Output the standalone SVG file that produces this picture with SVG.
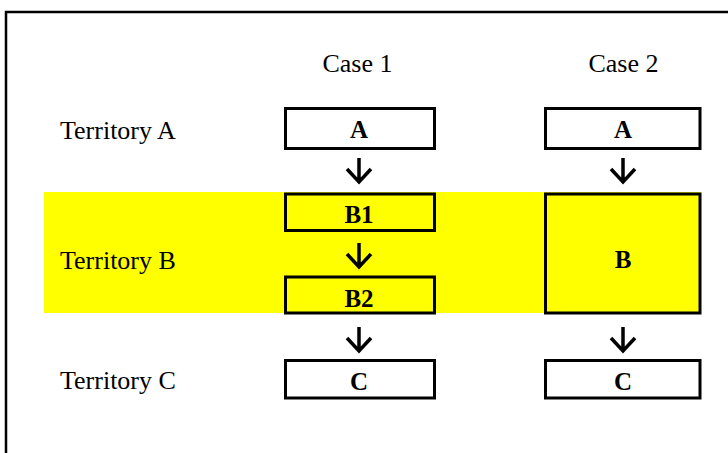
<svg xmlns="http://www.w3.org/2000/svg" width="728" height="453" viewBox="0 0 728 453">
  <style>
    .lbl { font-family: "Liberation Serif", "Times New Roman", serif; font-size: 26px; fill: #000; }
    .bold { font-family: "Liberation Serif", "Times New Roman", serif; font-size: 25px; font-weight: bold; fill: #000; text-anchor: middle; }
    .box { stroke: #000; stroke-width: 3; }
    .arr { fill: none; stroke: #000; stroke-width: 3.5; stroke-linecap: butt; stroke-linejoin: miter; }
  </style>
  <defs>
    <path id="arrow" class="arr" d="M0,0 V24 M-12,11 L0,24 L12,11"/>
  </defs>
  <rect width="728" height="453" fill="#fff"/>
  <!-- frame -->
  <path d="M6,453 V12 H728" fill="none" stroke="#000" stroke-width="2.5"/>
  <!-- yellow band -->
  <rect x="44" y="192" width="657" height="121" fill="#ffff00"/>

  <g id="header">
    <text class="lbl" x="357.5" y="72" text-anchor="middle">Case 1</text>
    <text class="lbl" x="623.5" y="72" text-anchor="middle">Case 2</text>
  </g>
  <g id="territory-labels">
    <text class="lbl" x="60" y="139">Territory A</text>
    <text class="lbl" x="60" y="269">Territory B</text>
    <text class="lbl" x="60" y="389">Territory C</text>
  </g>

  <g id="case1-A">
    <rect class="box" x="285.5" y="108.5" width="149" height="40" fill="#fff"/>
    <text class="bold" x="359" y="138">A</text>
  </g>
  <g id="case1-B1">
    <rect class="box" x="285.5" y="194" width="149" height="36.5" fill="#ffff00"/>
    <text class="bold" x="359" y="223">B1</text>
  </g>
  <g id="case1-B2">
    <rect class="box" x="285.5" y="277" width="149" height="36" fill="#ffff00"/>
    <text class="bold" x="359" y="307">B2</text>
  </g>
  <g id="case1-C">
    <rect class="box" x="285.5" y="360.5" width="149" height="37.5" fill="#fff"/>
    <text class="bold" x="359" y="390">C</text>
  </g>

  <g id="case2-A">
    <rect class="box" x="545.5" y="108.5" width="154.5" height="40" fill="#fff"/>
    <text class="bold" x="623" y="138">A</text>
  </g>
  <g id="case2-B">
    <rect class="box" x="545.5" y="194" width="154.5" height="119" fill="#ffff00"/>
    <text class="bold" x="623" y="268">B</text>
  </g>
  <g id="case2-C">
    <rect class="box" x="545.5" y="360.5" width="154.5" height="37.5" fill="#fff"/>
    <text class="bold" x="623" y="390">C</text>
  </g>

  <g id="connectors">
    <use href="#arrow" x="359" y="158"/>
    <use href="#arrow" x="359" y="243"/>
    <use href="#arrow" x="359" y="327"/>
    <use href="#arrow" x="623" y="158"/>
    <use href="#arrow" x="623" y="327"/>
  </g>
</svg>
